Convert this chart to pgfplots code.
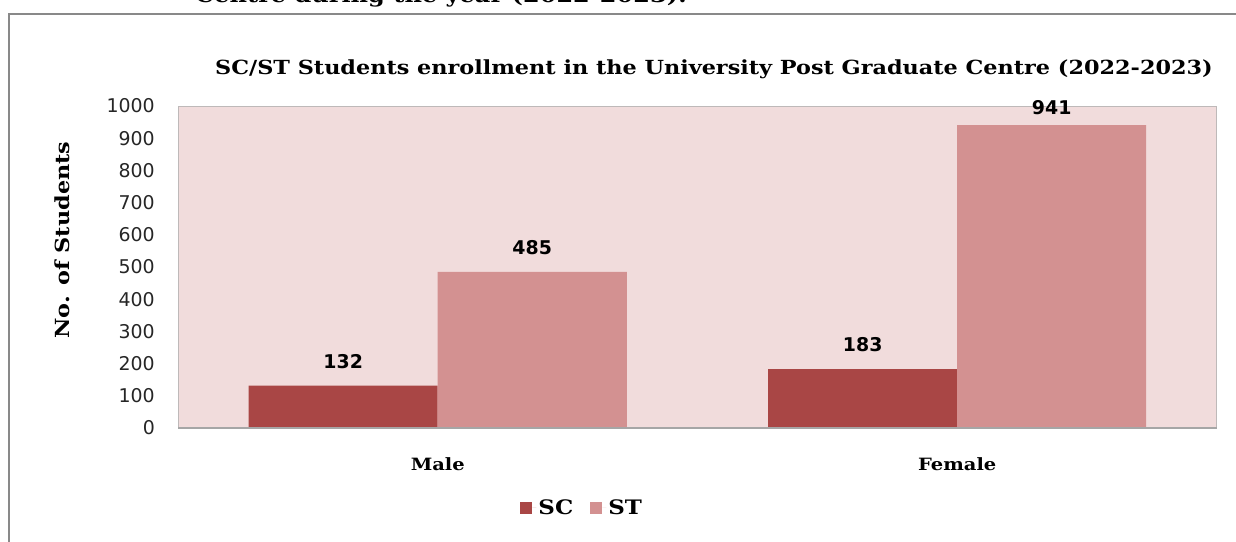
\documentclass[border=0pt]{standalone}
\usepackage{fontspec}
\setmainfont{DejaVu Serif}
\newfontfamily\tickfont{DejaVu Sans}
\newfontfamily\titlefont[FakeStretch=1.15]{DejaVu Serif}
\usepackage{pgfplots}
\pgfplotsset{compat=1.18}
\definecolor{scc}{RGB}{169,70,69}
\definecolor{stc}{RGB}{211,145,145}
\definecolor{bgc}{RGB}{241,220,220}
\definecolor{framec}{RGB}{137,137,137}
\definecolor{axc}{RGB}{190,185,185}
\begin{document}
\begin{tikzpicture}
\useasboundingbox (0bp,0bp) rectangle (1236bp,-542bp);
\draw[framec, line width=2bp] (9bp,-560bp) -- (9bp,-14bp) -- (1250bp,-14bp);
\node[anchor=base west, font=\titlefont\bfseries\fontsize{21}{24}\selectfont, inner sep=0] at (195bp,-2.5bp) {Centre during the year (2022-2023).};
\begin{axis}[
  at={(178bp,-428bp)}, anchor=south west,
  scale only axis, width=1039bp, height=322bp,
  xmin=-0.5, xmax=1.5, ymin=0, ymax=1000,
  ybar=0pt, bar width=189bp,
  clip=false,
  axis background/.style={fill=bgc},
  axis line style={draw=axc, line width=1bp},
  xtick={0,1}, xticklabels={Male,Female},
  ytick={0,100,...,1000},
  major tick length=0pt,
  tick style={draw=none},
  /pgf/number format/assume math mode=true,
  /pgf/number format/1000 sep={},
  yticklabel style={font=\tickfont\fontsize{19}{19}\selectfont, inner sep=0pt, anchor=east, xshift=-23bp, text=black!85},
  xticklabel style={font=\titlefont\bfseries\fontsize{17}{17}\selectfont, anchor=center, inner sep=0pt, yshift=-36bp},
  title={SC/ST Students enrollment in the University Post Graduate Centre (2022-2023)},
  title style={at={(axis description cs:0.5159,1.097)}, anchor=center, font=\titlefont\bfseries\fontsize{19.5}{19.5}\selectfont, inner sep=0pt},
  ylabel={No. of Students},
  ylabel style={at={(axis description cs:-0.11165,0.584)}, rotate=0, anchor=center, font=\titlefont\bfseries\fontsize{19.5}{19.5}\selectfont, inner sep=0pt},
  nodes near coords,
  visualization depends on={y \as \yval},
  every node near coord/.append style={font=\tickfont\bfseries\fontsize{19}{19}\selectfont, inner sep=0pt, anchor=south, yshift={ifthenelse(\yval>900,10,17)}, text=black},
  legend style={at={(axis description cs:0.389,-0.248)}, anchor=center, draw=none, fill=none, legend columns=2, font=\titlefont\bfseries\fontsize{20}{20}\selectfont, /tikz/every even column/.append style={column sep=15bp}},
  legend image code/.code={\fill[#1] (0bp,-6bp) rectangle (12bp,6bp); \path (12bp,0bp) -- (16bp,0bp);},
]
\addplot[fill=scc, draw=none] coordinates {(0,132) (1,183)};
\addplot[fill=stc, draw=none] coordinates {(0,485) (1,941)};
\legend{SC,ST}
\draw[black!35, line width=1.5bp] (axis cs:-0.5,0) -- (axis cs:1.5,0);
\end{axis}
\end{tikzpicture}
\end{document}
